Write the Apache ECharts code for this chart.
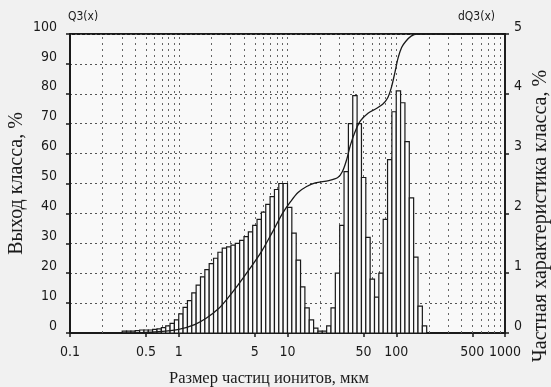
<!DOCTYPE html>
<html><head><meta charset="utf-8">
<script src="https://cdn.jsdelivr.net/npm/echarts@6/dist/echarts.min.js"></script>
<style>html,body{margin:0;padding:0;background:#f1f1f1}#c{width:551px;height:387px}</style>
</head><body><div id="c"></div>
<script>
// Particle size class edges, µm (histogram channels)
const binEdges = [0.302,0.331,0.363,0.398,0.437,0.479,0.525,0.575,0.631,0.692,0.759,0.832,0.912,
  1.000,1.096,1.202,1.318,1.445,1.585,1.738,1.905,2.089,2.291,2.512,2.754,3.020,3.311,3.631,3.981,4.365,4.786,5.248,5.754,6.310,6.918,7.586,8.318,9.120,
  10.00,10.96,12.02,13.18,14.45,15.85,17.38,19.05,20.89,22.91,25.12,27.54,30.20,33.11,36.31,39.81,43.65,47.86,52.48,57.54,63.10,69.18,75.86,83.18,91.20,
  100.0,109.6,120.2,131.8,144.5,158.5,173.8,190.5];
// dQ3(x), % (right axis)
const binValues = [0.03,0.03,0.03,0.04,0.05,0.05,0.05,0.06,0.07,0.09,0.12,0.16,0.22,
  0.32,0.43,0.54,0.67,0.80,0.94,1.06,1.16,1.25,1.35,1.42,1.44,1.47,1.50,1.55,1.61,1.69,1.80,1.90,2.02,2.15,2.28,2.40,2.50,2.50,
  2.10,1.67,1.22,0.77,0.42,0.22,0.08,0.03,0.03,0.12,0.42,1.00,1.80,2.70,3.50,3.97,3.50,2.60,1.60,0.90,0.60,1.00,1.90,2.90,3.70,
  4.05,3.85,3.20,2.26,1.27,0.45,0.12];
// Q3(x), cumulative %, left axis
const cumSizes  = [0.3,0.5,0.7,1.0,1.4,1.8,2.3,2.8,3.5,4.5,5.8,7.2,9.0,10.7,12.5,15,18,24,29,32,35,38,42,47,55,65,75,83,90,97,104,112,122,137,155,1000];
const cumValues = [0,0.2,0.5,1.2,2.8,5,8,11.5,16,21.5,27.4,33.5,40,44,47,49,50.2,51,52,54,58,63,67.5,71,73.5,75,76.5,78.5,82,87,92,95.5,97.5,99.3,100,100];
// axis ticks
const xTickValues = [0.1,0.5,1,5,10,50,100,500,1000];
const xGridValues = [0.2,0.3,0.4,0.5,0.6,0.7,0.8,0.9,1,2,3,4,5,6,7,8,9,10,20,30,40,50,60,70,80,90,100,200,300,400,500,600,700,800,900];

const chart = echarts.init(document.getElementById('c'));
const numFont = '"Liberation Sans Narrow","DejaVu Sans Condensed","Arial Narrow",sans-serif';
const serif = '"Liberation Serif","DejaVu Serif",serif';
const ink = '#1a1a1a';
const barData = binValues.map((v, i) => [binEdges[i], binEdges[i + 1], v]);

function renderBar(params, api) {
  const p0 = api.coord([api.value(0), 0]);
  const p1 = api.coord([api.value(1), api.value(2)]);
  return {
    type: 'rect',
    shape: { x: p0[0], y: p1[1], width: p1[0] - p0[0], height: p0[1] - p1[1] },
    style: { fill: '#fbfbfb', stroke: ink, lineWidth: 1.2 }
  };
}

chart.setOption({
  backgroundColor: '#f1f1f1',
  animation: false,
  grid: { left: 70, right: 46, top: 34, bottom: 54, containLabel: false, outerBoundsMode: 'none',
          show: true, backgroundColor: '#f9f9f9', borderColor: ink, borderWidth: 1.8 },
  xAxis: {
    type: 'log', logBase: 10, min: 0.1, max: 1000,
    axisLine: { lineStyle: { color: ink, width: 2 } },
    axisTick: { show: true, customValues: xTickValues, length: 4, lineStyle: { color: ink, width: 1.5 } },
    axisLabel: { customValues: xTickValues, formatter: v => String(v), color: ink, fontFamily: numFont, fontSize: 14, margin: 12 },
    splitLine: { show: false }
  },
  yAxis: [
    {
      type: 'value', min: 0, max: 100, interval: 10, position: 'left',
      name: 'Выход класса, %', nameLocation: 'middle', nameGap: 43, nameMoveOverlap: false,
      nameTextStyle: { fontFamily: serif, fontSize: 20, color: ink },
      axisLine: { show: true, lineStyle: { color: ink, width: 2 } },
      axisTick: { show: true, length: 4, lineStyle: { color: ink, width: 1.5 } },
      axisLabel: { color: ink, fontFamily: numFont, fontSize: 14, margin: 13, verticalAlign: 'bottom' },
      splitLine: { show: true, lineStyle: { type: [2, 3], color: '#555', width: 1 } }
    },
    {
      type: 'value', min: 0, max: 5, interval: 1, position: 'right',
      axisLine: { show: true, lineStyle: { color: ink, width: 1.5 } },
      axisTick: { show: true, length: 4, lineStyle: { color: ink, width: 1.5 } },
      axisLabel: { color: ink, fontFamily: numFont, fontSize: 14, margin: 9, verticalAlign: 'bottom' },
      splitLine: { show: false }
    }
  ],
  graphic: [
    { type: 'text', x: 68, y: 17, style: { text: 'Q3(x)', font: '12px ' + numFont, fill: ink, textAlign: 'left', textVerticalAlign: 'middle' } },
    { type: 'text', x: 495, y: 17, style: { text: 'dQ3(x)', font: '12px ' + numFont, fill: ink, textAlign: 'right', textVerticalAlign: 'middle' } },
    { type: 'text', x: 269, y: 379, style: { text: 'Размер частиц ионитов, мкм', font: '16.5px ' + serif, fill: ink, textAlign: 'center', textVerticalAlign: 'middle' } },
    { type: 'text', x: 541, y: 216, rotation: Math.PI / 2, style: { text: 'Частная характеристика класса, %', font: '20px ' + serif, fill: ink, textAlign: 'center', textVerticalAlign: 'middle' } }
  ],
  series: [
    {
      type: 'line', data: [], yAxisIndex: 0, silent: true,
      markLine: {
        silent: true, symbol: 'none', z: 1, animation: false,
        label: { show: false },
        lineStyle: { type: [2, 4], color: '#666', width: 1 },
        data: xGridValues.map(v => ({ xAxis: v }))
      }
    },
    { type: 'custom', yAxisIndex: 1, renderItem: renderBar, data: barData, encode: { x: [0, 1], y: 2 }, z: 3 },
    {
      type: 'line', yAxisIndex: 0, z: 4, smooth: 0.3, symbol: 'none',
      lineStyle: { color: ink, width: 1.3 },
      data: cumSizes.map((s, i) => [s, cumValues[i]])
    }
  ]
});
</script></body></html>
